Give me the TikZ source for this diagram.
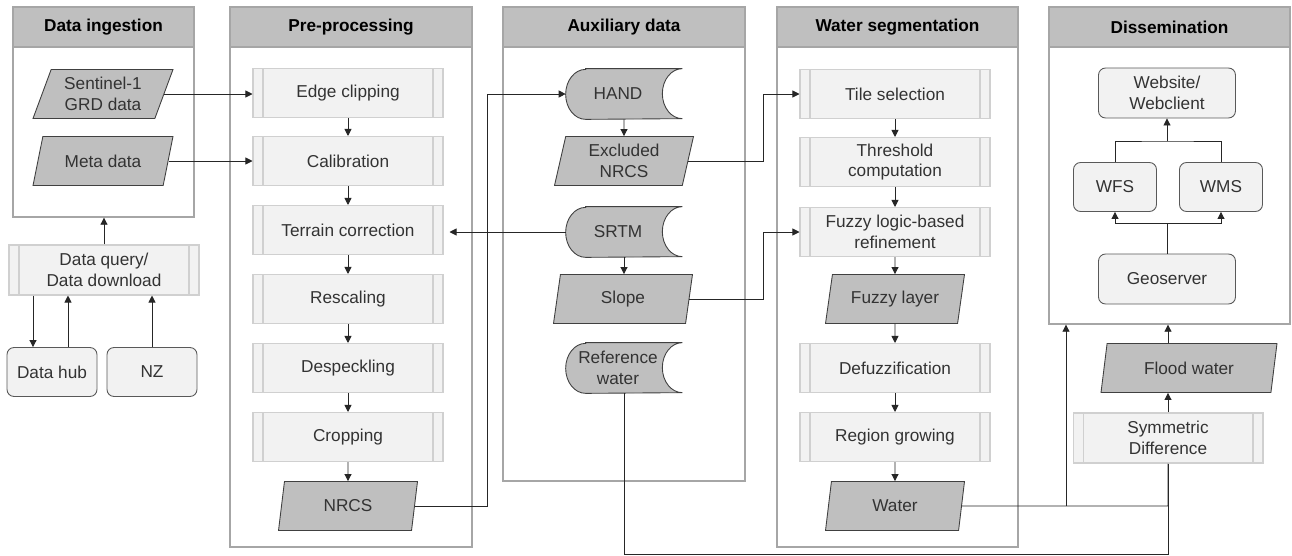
\documentclass[tikz,border=0pt]{standalone}
\usepackage{fontspec}
\setmainfont{Liberation Sans}
\usepackage{tikz}
\usetikzlibrary{positioning,calc,shapes.geometric,arrows.meta,backgrounds}
\definecolor{panelline}{HTML}{A6A6A6}
\definecolor{headfill}{HTML}{BFBFBF}
\definecolor{procfill}{HTML}{F2F2F2}
\definecolor{procline}{HTML}{D0D0D0}
\definecolor{datafill}{HTML}{BFBFBF}
\definecolor{dataline}{HTML}{404040}
\definecolor{roundline}{HTML}{595959}
\definecolor{linkcol}{HTML}{262626}
\definecolor{textcol}{HTML}{333333}

\begin{document}
\begin{tikzpicture}[x=0.02cm, y=-0.02cm,
  every node/.style={font=\fontsize{9.8}{11.7}\selectfont, text=textcol, align=center},
  panel/.style={rectangle, draw=panelline, line width=0.8pt, fill=white},
  headbox/.style={rectangle, draw=panelline, line width=0.8pt, fill=headfill, minimum height=0.8cm, anchor=north, font=\fontsize{9.8}{11.7}\selectfont\bfseries, text=black},
  procbox/.style={rectangle, draw=procline, fill=procfill, line width=0.6pt, minimum width=3.8cm, minimum height=0.98cm,
    path picture={\draw[procline, line width=0.6pt] ([xshift=0.2cm]path picture bounding box.north west) -- ([xshift=0.2cm]path picture bounding box.south west)
      ([xshift=-0.2cm]path picture bounding box.north east) -- ([xshift=-0.2cm]path picture bounding box.south east);}},
  databox/.style={trapezium, trapezium left angle=76, trapezium right angle=104, trapezium stretches body, draw=dataline, fill=datafill, line width=0.5pt, minimum width=2.78cm, minimum height=0.98cm, inner xsep=2pt},
  roundbox/.style={rectangle, rounded corners=4pt, draw=roundline, fill=procfill, line width=0.5pt, minimum height=0.98cm},
  storebox/.style={rectangle, minimum width=2.32cm, minimum height=1cm},
  arr/.style={draw=linkcol, line width=0.5pt, -{Triangle[length=4pt,width=4pt]}},
  link/.style={draw=linkcol, line width=0.5pt}]
\useasboundingbox (0,0) rectangle (1292,555);
% Panels
\begin{scope}[on background layer]
\node[panel, minimum width=3.62cm, minimum height=4.2cm] (ing) at (103.5,112) {};
\node[headbox, minimum width=3.62cm] (ingh) at (ing.north) {Data ingestion};
\node[panel, minimum width=4.84cm, minimum height=10.8cm] (pre) at (351,277) {};
\node[headbox, minimum width=4.84cm] (preh) at (pre.north) {Pre-processing};
\node[panel, minimum width=4.84cm, minimum height=9.48cm] (aux) at (624,244) {};
\node[headbox, minimum width=4.84cm] (auxh) at (aux.north) {Auxiliary data};
\node[panel, minimum width=4.82cm, minimum height=10.8cm] (seg) at (897.5,277) {};
\node[headbox, minimum width=4.82cm] (segh) at (seg.north) {Water segmentation};
\node[panel, minimum width=4.82cm, minimum height=6.34cm] (dis) at (1169.5,165.5) {};
\node[headbox, minimum width=4.82cm] (dish) at (dis.north) {Dissemination};
\end{scope}
% Data ingestion
\node[databox, trapezium left angle=68, trapezium right angle=112, minimum width=2.8cm] (sen) at (103,94) {Sentinel-1\\GRD data};
\node[databox, trapezium left angle=68, trapezium right angle=112, minimum width=2.8cm] (meta) at (103,161) {Meta data};
\node[procbox, minimum height=1cm] (query) at (104,270) {Data query/\\Data download};
\node[roundbox, minimum width=1.8cm] (hub) at (52,372) {Data hub};
\node[roundbox, minimum width=1.8cm] (nz) at (152,372) {NZ};
% Pre-processing
\node[procbox] (edgeclip) at (348,93) {Edge clipping};
\node[procbox] (calib) at (348,161) {Calibration};
\node[procbox] (terr) at (348,230) {Terrain correction};
\node[procbox] (resc) at (348,299) {Rescaling};
\node[procbox] (desp) at (348,368) {Despeckling};
\node[procbox] (crop) at (348,437) {Cropping};
\node[databox] (nrcs) at (348,506) {NRCS};
% Auxiliary data
\node[storebox] (hand) at (618,94) {HAND};
\node[databox] (excl) at (624,161) {Excluded\\NRCS};
\node[storebox] (srtm) at (618,232) {SRTM};
\node[databox] (slope) at (623,299) {Slope};
\node[storebox] (refw) at (618,368) {Reference\\water};
\begin{scope}[on background layer]
\foreach \n in {hand,srtm,refw}
  \draw[draw=dataline, fill=datafill, line width=0.5pt]
    ([xshift=0.52cm]\n.north west) -- ([xshift=0.12cm]\n.north east)
    arc[start angle=90, end angle=270, x radius=0.4cm, y radius=0.5cm]
    -- ([xshift=0.52cm]\n.south west)
    arc[start angle=270, end angle=90, x radius=0.4cm, y radius=0.5cm] -- cycle;
\end{scope}
% Water segmentation
\node[procbox] (tile) at (895,94) {Tile selection};
\node[procbox] (thr) at (895,162) {Threshold\\computation};
\node[procbox] (fuzz) at (895,232) {Fuzzy logic-based\\refinement};
\node[databox] (flay) at (895,299) {Fuzzy layer};
\node[procbox] (defz) at (895,368) {Defuzzification};
\node[procbox] (reg) at (895,437) {Region growing};
\node[databox] (water) at (895,506) {Water};
% Dissemination
\node[roundbox, minimum width=2.74cm, minimum height=1cm] (web) at (1167,93) {Website/\\Webclient};
\node[roundbox, minimum width=1.66cm] (wfs) at (1115,187) {WFS};
\node[roundbox, minimum width=1.66cm] (wms) at (1221,187) {WMS};
\node[roundbox, minimum width=2.74cm, minimum height=1cm] (geo) at (1167,279) {Geoserver};
\node[databox, minimum width=3.52cm] (flood) at (1189,368) {Flood water};
\node[procbox, minimum height=1cm] (sd) at (1168,438) {Symmetric\\Difference};
% Connectors
\draw[arr] (sen.east) -- (sen.east -| edgeclip.west);
\draw[arr] (meta.east) -- (meta.east -| calib.west);
\draw[arr] (query.north) -- (query.north |- ing.south);
\draw[arr] ([xshift=-0.38cm]hub.north |- query.south) -- ([xshift=-0.38cm]hub.north);
\draw[arr] ([xshift=0.32cm]hub.north) -- ([xshift=0.32cm]hub.north |- query.south);
\draw[arr] (nz.north) -- (nz.north |- query.south);
\foreach \a/\b in {edgeclip/calib, calib/terr, terr/resc, resc/desp, desp/crop, crop/nrcs,
    tile/thr, thr/fuzz, fuzz/flay, flay/defz, defz/reg, reg/water}
  \draw[arr] (\a.south) -- (\b.north);
\draw[arr] ([xshift=0.12cm]srtm.west) -- ([xshift=0.12cm]srtm.west -| terr.east);
\draw[arr] (nrcs.east) -| ([xshift=-1.44cm]hand.west) -- ([xshift=0.12cm]hand.west);
\draw[arr] ([xshift=0.12cm]hand.south) -- (excl.north);
\draw[arr] ([xshift=0.12cm]srtm.south) -- ([xshift=0.12cm]srtm.south |- slope.north);
\draw[arr] (excl.east) -| ([xshift=-0.72cm]tile.west) -- (tile.west);
\draw[arr] (slope.east) -| ([xshift=-0.72cm]fuzz.west) -- (fuzz.west);
% Dissemination links
\coordinate (gj) at (1167,223);
\coordinate (wj) at (1167,141);
\draw[link] (geo.north) -- (gj);
\draw[arr] (gj) -| (wfs.south);
\draw[arr] (gj) -| (wms.south);
\draw[link] (wfs.north) |- (wj) -| (wms.north);
\draw[arr] (wj) -- (web.south);
\draw[arr] (sd.north) -- (sd.north |- flood.south);
\draw[arr] (sd.north |- flood.north) -- (sd.north |- dis.south);
% Water and reference water
\coordinate (wsd) at (1168,506);
\coordinate (wup) at (1066,506);
\coordinate (rsd) at (1168,554);
\draw[link] (water.east) -- (wsd) -- (sd.south);
\draw[arr] (wup) -- (wup |- dis.south);
\draw[link] ([xshift=0.12cm]refw.south) |- (rsd) -- (sd.south);
\end{tikzpicture}
\end{document}
